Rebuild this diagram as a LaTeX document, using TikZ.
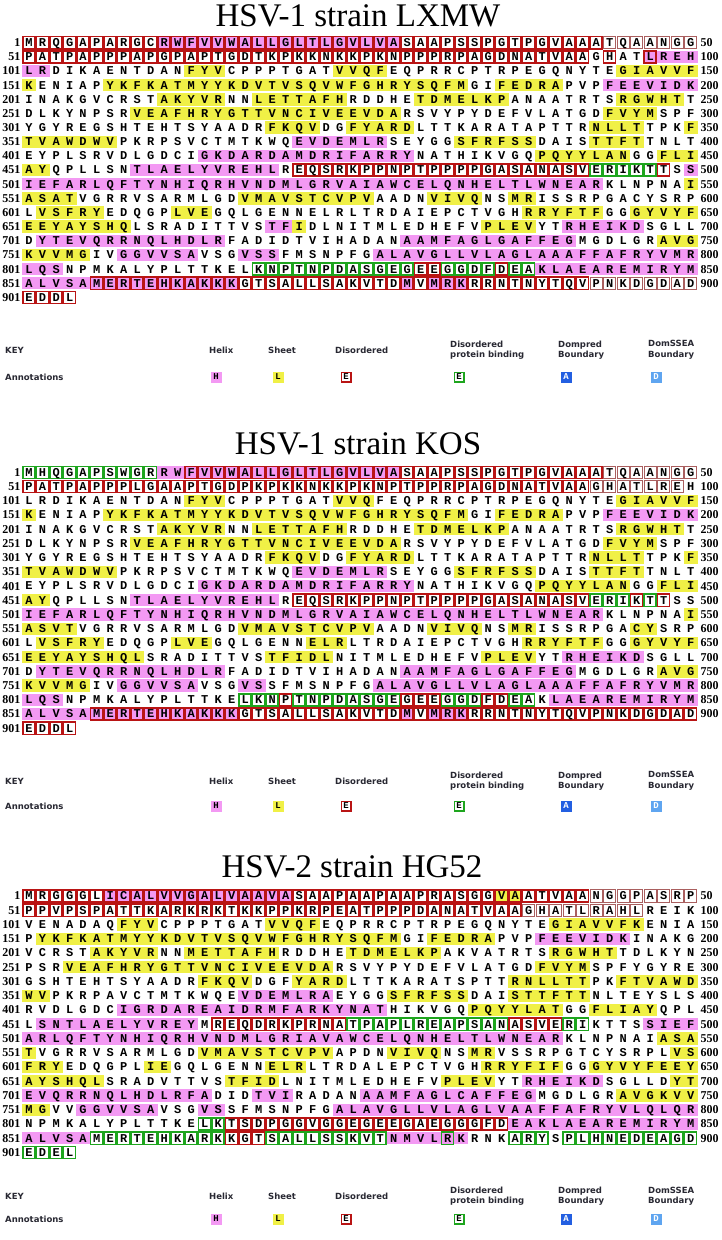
\documentclass[tikz,border=0pt]{standalone}
\usepackage{fontspec}
\setmainfont{Liberation Serif}
\newfontfamily\seqfamily{Liberation Mono}
\newfontfamily\keyfamily{DejaVu Sans}
\ExplSyntaxOn
\NewExpandableDocumentCommand\SeqItem{mm}{\tl_item:nn{#1}{#2}}
\NewExpandableDocumentCommand\SeqLen{m}{\tl_count:n{#1}}
\ExplSyntaxOff
\definecolor{helixc}{RGB}{243,153,243}
\definecolor{sheetc}{RGB}{240,240,70}
\definecolor{disc}{RGB}{185,20,20}
\definecolor{thinc}{RGB}{170,95,95}
\definecolor{bindc}{RGB}{30,165,30}
\definecolor{dompc}{RGB}{35,95,225}
\definecolor{domsc}{RGB}{95,165,240}
\definecolor{keytext}{RGB}{40,40,50}
\tikzset{
  seqchar/.style={font=\seqfamily\bfseries\fontsize{12}{12}\selectfont, inner sep=0pt, anchor=base},
  numlab/.style={font=\bfseries\fontsize{12}{12}\selectfont, inner sep=0pt},
  disbox/.style={draw=disc, line width=1.5pt},
  thinbox/.style={draw=thinc, line width=1pt},
  bindbox/.style={draw=bindc, line width=1.5pt},
  titlelab/.style={font=\fontsize{33}{33}\selectfont, anchor=base, inner sep=0pt},
  keylab/.style={font=\keyfamily\bfseries\fontsize{8.5}{10.5}\selectfont, text=keytext, inner sep=0pt, align=left, anchor=west},
  keybox/.style={minimum width=11pt, minimum height=11pt, inner sep=0pt, font=\seqfamily\bfseries\fontsize{9}{9}\selectfont}
}
\newcommand\Ann[3]{\foreach \k in {#2,...,#3}{\expandafter\xdef\csname ann@\PN @\k\endcsname{#1}}}
\newcommand\GetCode{\edef\cd{\ifcsname ann@\PN @\pos\endcsname\csname ann@\PN @\pos\endcsname\else.\fi}}
\newcommand\SeqRow[3]{%
  \pgfmathsetmacro\ry{\PY+(#1-1)*\PD}%
  \edef\nch{\SeqLen{#3}}%
  \foreach \i in {1,...,\nch}{%
    \pgfmathtruncatemacro\pos{#2+\i-1}\GetCode
    \pgfmathsetmacro\cx{29.1+(\i-1)*13.5}%
    \if h\cd\fill[helixc] (\cx-6.9,\ry-6.2) rectangle (\cx+6.9,\ry+6.2);\fi
    \if s\cd\fill[sheetc] (\cx-6.9,\ry-6.2) rectangle (\cx+6.9,\ry+6.2);\fi
  }%
  \foreach \i in {1,...,\nch}{%
    \pgfmathtruncatemacro\pos{#2+\i-1}\GetCode
    \pgfmathsetmacro\cx{29.1+(\i-1)*13.5}%
    \if d\cd\draw[disbox] (\cx-6.05,\ry-6.05) rectangle (\cx+6.05,\ry+6.05);\fi
    \if D\cd\draw[disbox,fill=helixc] (\cx-6.05,\ry-6.05) rectangle (\cx+6.05,\ry+6.05);\fi
    \if Y\cd\draw[disbox,fill=sheetc] (\cx-6.05,\ry-6.05) rectangle (\cx+6.05,\ry+6.05);\fi
    \if w\cd\draw[thinbox] (\cx-6.05,\ry-6.05) rectangle (\cx+6.05,\ry+6.05);\fi
    \if b\cd\draw[bindbox] (\cx-6.05,\ry-6.05) rectangle (\cx+6.05,\ry+6.05);\fi
    \if B\cd\draw[bindbox,fill=helixc] (\cx-6.05,\ry-6.05) rectangle (\cx+6.05,\ry+6.05);\fi
  }%
  \foreach \i in {1,...,\nch}{%
    \pgfmathtruncatemacro\pos{#2+\i-1}%
    \pgfmathsetmacro\cx{29.1+(\i-1)*13.5}%
    \edef\ch{\SeqItem{#3}{\i}}%
    \node[seqchar] (\PN-\pos) at (\cx,\ry+3.9) {\ch};
  }%
  \node[numlab,anchor=east] (\PN-L#2) at (20.5,\ry) {#2};
  \ifnum\nch=50 \pgfmathtruncatemacro\endn{#2+49}\node[numlab,anchor=west] (\PN-R#2) at (700.5,\ry) {\endn};\fi
}
\newcommand\KeyBlock[2]{% y of KEY line, y of Annotations line
  \node[keylab] (\PN-key) at (5,#1) {KEY};
  \node[keylab] (\PN-kh) at (209,#1) {Helix};
  \node[keylab] (\PN-ks) at (268,#1) {Sheet};
  \node[keylab] (\PN-kd) at (335,#1) {Disordered};
  \node[keylab] (\PN-kb) at (450,#1) {Disordered\\protein binding};
  \node[keylab] (\PN-kp) at (558,#1) {Dompred\\Boundary};
  \node[keylab] (\PN-kq) at (648,#1) {DomSSEA\\Boundary};
  \node[keylab] (\PN-ka) at (5,#2) {Annotations};
  \node[keybox,fill=helixc] (\PN-bh) at (216,#2) {H};
  \node[keybox,fill=sheetc] (\PN-bs) at (278,#2) {L};
  \node[keybox,draw=disc,line width=1.5pt,minimum width=9.5pt,minimum height=9.5pt] (\PN-bd) at (346,#2) {E};
  \node[keybox,draw=bindc,line width=1.5pt,minimum width=9.5pt,minimum height=9.5pt] (\PN-bb) at (459,#2) {E};
  \node[keybox,fill=dompc,text=white] (\PN-bp) at (566,#2) {A};
  \node[keybox,fill=domsc,text=white] (\PN-bq) at (656,#2) {D};
}
\begin{document}
\begin{tikzpicture}[x=1pt,y=-1pt]
\fill[white] (0,0) rectangle (722,1240);
\useasboundingbox (0,0) rectangle (722,1240);
% ================= Panel A: HSV-1 LXMW =================
\def\PN{A}\def\PY{42.7}\def\PD{14.15}
\Ann{d}{1}{10}\Ann{D}{11}{28}\Ann{d}{29}{43}\Ann{w}{44}{50}
\Ann{d}{51}{92}\Ann{d}{94}{94}\Ann{D}{97}{97}\Ann{h}{98}{102}
\Ann{s}{113}{115}\Ann{s}{124}{127}\Ann{s}{145}{151}\Ann{s}{157}{183}\Ann{s}{186}{190}\Ann{h}{194}{200}
\Ann{s}{211}{215}\Ann{s}{218}{224}\Ann{s}{230}{236}\Ann{s}{245}{249}
\Ann{s}{259}{278}\Ann{s}{294}{297}
\Ann{s}{319}{322}\Ann{s}{325}{329}\Ann{s}{343}{346}\Ann{s}{350}{357}
\Ann{h}{371}{377}\Ann{s}{383}{388}\Ann{s}{393}{396}
\Ann{h}{414}{429}\Ann{s}{439}{445}\Ann{s}{448}{452}
\Ann{h}{459}{469}\Ann{d}{471}{492}\Ann{b}{493}{497}\Ann{d}{498}{498}\Ann{h}{500}{543}\Ann{s}{550}{554}
\Ann{s}{567}{576}\Ann{s}{581}{584}\Ann{s}{587}{588}
\Ann{s}{602}{606}\Ann{s}{612}{614}\Ann{s}{638}{643}\Ann{s}{646}{658}
\Ann{h}{669}{670}\Ann{s}{671}{671}\Ann{s}{685}{688}\Ann{h}{691}{696}
\Ann{h}{702}{715}\Ann{h}{729}{741}\Ann{s}{748}{755}
\Ann{h}{758}{763}\Ann{h}{767}{769}\Ann{h}{777}{803}
\Ann{b}{818}{829}\Ann{d}{830}{831}\Ann{b}{832}{835}\Ann{d}{836}{836}\Ann{b}{837}{838}\Ann{h}{839}{855}
\Ann{D}{856}{866}\Ann{d}{867}{878}\Ann{D}{879}{879}\Ann{d}{880}{880}\Ann{D}{881}{883}\Ann{d}{884}{892}\Ann{w}{893}{900}\Ann{d}{901}{904}
\node[titlelab] (tA) at (358,26) {HSV-1 strain LXMW};
\SeqRow{1}{1}{MRQGAPARGCRWFVVWALLGLTLGVLVASAAPSSPGTPGVAAATQAANGG}
\SeqRow{2}{51}{PATPAPPPAPGPAPTGDTKPKKNKKPKNPPPRPAGDNATVAAGHATLREH}
\SeqRow{3}{101}{LRDIKAENTDANFYVCPPPTGATVVQFEQPRRCPTRPEGQNYTEGIAVVF}
\SeqRow{4}{151}{KENIAPYKFKATMYYKDVTVSQVWFGHRYSQFMGIFEDRAPVPFEEVIDK}
\SeqRow{5}{201}{INAKGVCRSTAKYVRNNLETTAFHRDDHETDMELKPANAATRTSRGWHTT}
\SeqRow{6}{251}{DLKYNPSRVEAFHRYGTTVNCIVEEVDARSVYPYDEFVLATGDFVYMSPF}
\SeqRow{7}{301}{YGYREGSHTEHTSYAADRFKQVDGFYARDLTTKARATAPTTRNLLTTPKF}
\SeqRow{8}{351}{TVAWDWVPKRPSVCTMTKWQEVDEMLRSEYGGSFRFSSDAISTTFTTNLT}
\SeqRow{9}{401}{EYPLSRVDLGDCIGKDARDAMDRIFARRYNATHIKVGQPQYYLANGGFLI}
\SeqRow{10}{451}{AYQPLLSNTLAELYVREHLREQSRKPPNPTPPPPGASANASVERIKTTSS}
\SeqRow{11}{501}{IEFARLQFTYNHIQRHVNDMLGRVAIAWCELQNHELTLWNEARKLNPNAI}
\SeqRow{12}{551}{ASATVGRRVSARMLGDVMAVSTCVPVAADNVIVQNSMRISSRPGACYSRP}
\SeqRow{13}{601}{LVSFRYEDQGPLVEGQLGENNELRLTRDAIEPCTVGHRRYFTFGGGYVYF}
\SeqRow{14}{651}{EEYAYSHQLSRADITTVSTFIDLNITMLEDHEFVPLEVYTRHEIKDSGLL}
\SeqRow{15}{701}{DYTEVQRRNQLHDLRFADIDTVIHADANAAMFAGLGAFFEGMGDLGRAVG}
\SeqRow{16}{751}{KVVMGIVGGVVSAVSGVSSFMSNPFGALAVGLLVLAGLAAAFFAFRYVMR}
\SeqRow{17}{801}{LQSNPMKALYPLTTKELKNPTNPDASGEGEEGGDFDEAKLAEAREMIRYM}
\SeqRow{18}{851}{ALVSAMERTEHKAKKKGTSALLSAKVTDMVMRKRRNTNYTQVPNKDGDAD}
\SeqRow{19}{901}{EDDL}
\KeyBlock{350}{377}
% ================= Panel B: HSV-1 KOS =================
\def\PN{B}\def\PY{472.3}\def\PD{14.22}
\Ann{b}{1}{10}\Ann{h}{11}{12}\Ann{D}{13}{28}\Ann{d}{29}{43}\Ann{w}{44}{50}
\Ann{d}{51}{92}\Ann{w}{93}{99}
\Ann{s}{113}{115}\Ann{s}{124}{126}\Ann{s}{145}{151}\Ann{s}{157}{183}\Ann{s}{186}{190}\Ann{h}{194}{200}
\Ann{s}{211}{215}\Ann{s}{218}{224}\Ann{s}{230}{236}\Ann{s}{245}{249}
\Ann{s}{259}{278}\Ann{s}{294}{297}
\Ann{s}{319}{322}\Ann{s}{325}{329}\Ann{s}{343}{346}\Ann{s}{350}{357}
\Ann{h}{371}{377}\Ann{s}{383}{388}\Ann{s}{393}{396}
\Ann{h}{414}{429}\Ann{s}{439}{445}\Ann{s}{448}{452}
\Ann{h}{459}{469}\Ann{d}{471}{492}\Ann{b}{493}{495}\Ann{d}{496}{496}\Ann{b}{497}{497}\Ann{d}{498}{498}\Ann{h}{501}{543}\Ann{s}{550}{554}
\Ann{s}{567}{576}\Ann{s}{581}{584}\Ann{s}{587}{588}\Ann{s}{596}{597}
\Ann{s}{602}{606}\Ann{s}{612}{614}\Ann{s}{622}{624}\Ann{s}{638}{643}\Ann{s}{646}{659}
\Ann{s}{669}{673}\Ann{s}{685}{688}\Ann{h}{691}{696}
\Ann{h}{702}{715}\Ann{h}{729}{741}\Ann{s}{748}{755}
\Ann{h}{758}{763}\Ann{h}{767}{768}\Ann{h}{777}{803}
\Ann{b}{817}{819}\Ann{d}{820}{820}\Ann{b}{821}{828}\Ann{d}{829}{831}\Ann{b}{832}{834}\Ann{d}{835}{836}\Ann{b}{837}{838}\Ann{h}{840}{855}
\Ann{D}{856}{866}\Ann{d}{867}{878}\Ann{D}{879}{879}\Ann{d}{880}{880}\Ann{D}{881}{883}\Ann{d}{884}{904}
\node[titlelab] (tB) at (358,454) {HSV-1 strain KOS};
\SeqRow{1}{1}{MHQGAPSWGRRWFVVWALLGLTLGVLVASAAPSSPGTPGVAAATQAANGG}
\SeqRow{2}{51}{PATPAPPPLGAAPTGDPKPKKNKKPKNPTPPRPAGDNATVAAGHATLREH}
\SeqRow{3}{101}{LRDIKAENTDANFYVCPPPTGATVVQFEQPRRCPTRPEGQNYTEGIAVVF}
\SeqRow{4}{151}{KENIAPYKFKATMYYKDVTVSQVWFGHRYSQFMGIFEDRAPVPFEEVIDK}
\SeqRow{5}{201}{INAKGVCRSTAKYVRNNLETTAFHRDDHETDMELKPANAATRTSRGWHTT}
\SeqRow{6}{251}{DLKYNPSRVEAFHRYGTTVNCIVEEVDARSVYPYDEFVLATGDFVYMSPF}
\SeqRow{7}{301}{YGYREGSHTEHTSYAADRFKQVDGFYARDLTTKARATAPTTRNLLTTPKF}
\SeqRow{8}{351}{TVAWDWVPKRPSVCTMTKWQEVDEMLRSEYGGSFRFSSDAISTTFTTNLT}
\SeqRow{9}{401}{EYPLSRVDLGDCIGKDARDAMDRIFARRYNATHIKVGQPQYYLANGGFLI}
\SeqRow{10}{451}{AYQPLLSNTLAELYVREHLREQSRKPPNPTPPPPGASANASVERIKTTSS}
\SeqRow{11}{501}{IEFARLQFTYNHIQRHVNDMLGRVAIAWCELQNHELTLWNEARKLNPNAI}
\SeqRow{12}{551}{ASVTVGRRVSARMLGDVMAVSTCVPVAADNVIVQNSMRISSRPGACYSRP}
\SeqRow{13}{601}{LVSFRYEDQGPLVEGQLGENNELRLTRDAIEPCTVGHRRYFTFGGGYVYF}
\SeqRow{14}{651}{EEYAYSHQLSRADITTVSTFIDLNITMLEDHEFVPLEVYTRHEIKDSGLL}
\SeqRow{15}{701}{DYTEVQRRNQLHDLRFADIDTVIHADANAAMFAGLGAFFEGMGDLGRAVG}
\SeqRow{16}{751}{KVVMGIVGGVVSAVSGVSSFMSNPFGALAVGLLVLAGLAAAFFAFRYVMR}
\SeqRow{17}{801}{LQSNPMKALYPLTTKELKNPTNPDASGEGEEGGDFDEAKLAEAREMIRYM}
\SeqRow{18}{851}{ALVSAMERTEHKAKKKGTSALLSAKVTDMVMRKRRNTNYTQVPNKDGDAD}
\SeqRow{19}{901}{EDDL}
\KeyBlock{781}{806}
% ================= Panel C: HSV-2 HG52 =================
\def\PN{C}\def\PY{896}\def\PD{14.25}
\Ann{d}{1}{6}\Ann{D}{7}{20}\Ann{d}{21}{35}\Ann{Y}{36}{37}\Ann{d}{38}{42}\Ann{w}{43}{50}
\Ann{d}{51}{87}\Ann{w}{88}{96}
\Ann{s}{108}{110}\Ann{s}{119}{122}\Ann{s}{140}{146}\Ann{s}{152}{178}\Ann{s}{181}{185}\Ann{h}{189}{195}
\Ann{s}{206}{210}\Ann{s}{213}{219}\Ann{s}{225}{231}\Ann{s}{240}{244}
\Ann{s}{254}{273}\Ann{s}{289}{292}
\Ann{s}{314}{317}\Ann{s}{321}{324}\Ann{s}{337}{342}\Ann{s}{345}{352}
\Ann{h}{367}{373}\Ann{s}{378}{383}\Ann{s}{387}{392}
\Ann{h}{408}{427}\Ann{s}{434}{440}\Ann{s}{443}{447}
\Ann{h}{452}{463}\Ann{d}{465}{474}\Ann{b}{475}{486}\Ann{d}{487}{490}\Ann{b}{491}{492}\Ann{h}{497}{540}\Ann{s}{548}{551}
\Ann{s}{564}{573}\Ann{s}{578}{581}\Ann{s}{584}{585}\Ann{s}{599}{603}
\Ann{s}{610}{611}\Ann{s}{619}{621}\Ann{s}{635}{640}\Ann{s}{643}{656}
\Ann{s}{666}{669}\Ann{s}{682}{685}\Ann{h}{688}{693}\Ann{s}{699}{700}
\Ann{h}{701}{714}\Ann{h}{718}{720}\Ann{h}{726}{738}\Ann{s}{745}{752}
\Ann{h}{755}{760}\Ann{h}{764}{765}\Ann{h}{774}{800}
\Ann{b}{814}{815}\Ann{d}{816}{836}\Ann{h}{837}{855}
\Ann{b}{856}{865}\Ann{d}{866}{868}\Ann{b}{869}{877}\Ann{h}{878}{881}\Ann{B}{882}{882}\Ann{h}{883}{883}\Ann{b}{887}{889}\Ann{b}{891}{904}
\node[titlelab] (tC) at (352,877) {HSV-2 strain HG52};
\SeqRow{1}{1}{MRGGGLICALVVGALVAAVASAAPAAPAAPRASGGVAATVAANGGPASRP}
\SeqRow{2}{51}{PPVPSPATTKARKRKTKKPPKRPEATPPPDANATVAAGHATLRAHLREIK}
\SeqRow{3}{101}{VENADAQFYVCPPPTGATVVQFEQPRRCPTRPEGQNYTEGIAVVFKENIA}
\SeqRow{4}{151}{PYKFKATMYYKDVTVSQVWFGHRYSQFMGIFEDRAPVPFEEVIDKINAKG}
\SeqRow{5}{201}{VCRSTAKYVRNNMETTAFHRDDHETDMELKPAKVATRTSRGWHTTDLKYN}
\SeqRow{6}{251}{PSRVEAFHRYGTTVNCIVEEVDARSVYPYDEFVLATGDFVYMSPFYGYRE}
\SeqRow{7}{301}{GSHTEHTSYAADRFKQVDGFYARDLTTKARATSPTTRNLLTTPKFTVAWD}
\SeqRow{8}{351}{WVPKRPAVCTMTKWQEVDEMLRAEYGGSFRFSSDAISTTFTTNLTEYSLS}
\SeqRow{9}{401}{RVDLGDCIGRDAREAIDRMFARKYNATHIKVGQPQYYLATGGFLIAYQPL}
\SeqRow{10}{451}{LSNTLAELYVREYMREQDRKPRNATPAPLREAPSANASVERIKTTSSIEF}
\SeqRow{11}{501}{ARLQFTYNHIQRHVNDMLGRIAVAWCELQNHELTLWNEARKLNPNAIASA}
\SeqRow{12}{551}{TVGRRVSARMLGDVMAVSTCVPVAPDNVIVQNSMRVSSRPGTCYSRPLVS}
\SeqRow{13}{601}{FRYEDQGPLIEGQLGENNELRLTRDALEPCTVGHRRYFIFGGGYVYFEEY}
\SeqRow{14}{651}{AYSHQLSRADVTTVSTFIDLNITMLEDHEFVPLEVYTRHEIKDSGLLDYT}
\SeqRow{15}{701}{EVQRRNQLHDLRFADIDTVIRADANAAMFAGLCAFFEGMGDLGRAVGKVV}
\SeqRow{16}{751}{MGVVGGVVSAVSGVSSFMSNPFGALAVGLLVLAGLVAAFFAFRYVLQLQR}
\SeqRow{17}{801}{NPMKALYPLTTKELKTSDPGGVGGEGEEGAEGGGFDEAKLAEAREMIRYM}
\SeqRow{18}{851}{ALVSAMERTEHKARKKGTSALLSSKVTNMVLRKRNKARYSPLHNEDEAGD}
\SeqRow{19}{901}{EDEL}
\KeyBlock{1196}{1219}
\end{tikzpicture}
\end{document}
